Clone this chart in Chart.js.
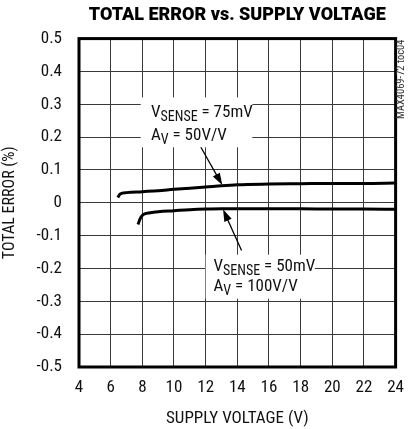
<!DOCTYPE html>
<html lang="en">
<head>
<meta charset="UTF-8">
<title>Total Error vs. Supply Voltage</title>
<script src="https://cdn.jsdelivr.net/npm/chart.js@4.4.1/dist/chart.umd.min.js"></script>
<style>
  html, body { margin: 0; padding: 0; background: #fff; }
  #wrap { width: 415px; height: 429px; }
</style>
</head>
<body>
<div id="wrap"><canvas id="errChart" width="415" height="429"></canvas></div>
<script>
// supply voltage (V) / total error (%)
const vHigh = [6.45, 6.6, 7, 8, 9, 10, 12, 13, 14, 16, 18, 20, 22, 24];
const errHigh = [0.016, 0.027, 0.031, 0.034, 0.037, 0.041, 0.048, 0.052, 0.055, 0.057, 0.058, 0.059, 0.059, 0.060];
const vLow = [7.73, 7.85, 8.05, 8.5, 9, 10, 11, 12, 13, 14, 16, 18, 20, 22, 24];
const errLow = [-0.066, -0.05, -0.036, -0.03, -0.027, -0.024, -0.021, -0.019, -0.018, -0.018, -0.018, -0.018, -0.019, -0.019, -0.020];
const xTicks = [4, 6, 8, 10, 12, 14, 16, 18, 20, 22, 24];
const yTicks = ['-0.5', '-0.4', '-0.3', '-0.2', '-0.1', '0', '0.1', '0.2', '0.3', '0.4', '0.5'];

const FONT = '"Roboto Condensed", "Liberation Sans Narrow", Arial, sans-serif';
const TITLE_FONT = 'Roboto, "Liberation Sans", Arial, sans-serif';

function pts(xs, ys) {
    return xs.map((x, i) => ({ x: x, y: ys[i] }));
}

// labels + arrows, placed in data units
const notes = [
    { box: [7.9, 14.95, 0.321, 0.169], x: 8.55, y1: 0.260, y2: 0.192,
      lines: [['V', 'SENSE', ' = 75mV'], ['A', 'V', ' = 50V/V']],
      arrow: [11.7, 0.169, 13.05, 0.054] },
    { box: [12.0, 18.9, -0.158, -0.292], x: 12.5, y1: -0.207, y2: -0.27,
      lines: [['V', 'SENSE', ' = 50mV'], ['A', 'V', ' = 100V/V']],
      arrow: [14.27, -0.145, 13.1, -0.02] }
];

const extras = {
    id: 'extras',
    beforeDatasetsDraw(chart) {
        const c = chart.ctx, xs = chart.scales.x, ys = chart.scales.y;
        c.save();
        c.fillStyle = '#fff';
        notes.forEach(n => {
            const l = xs.getPixelForValue(n.box[0]), r = xs.getPixelForValue(n.box[1]);
            const t = ys.getPixelForValue(n.box[2]), b = ys.getPixelForValue(n.box[3]);
            c.fillRect(l, t, r - l, b - t);
        });
        c.restore();
    },
    afterDatasetsDraw(chart) {
        const c = chart.ctx, xs = chart.scales.x, ys = chart.scales.y, a = chart.chartArea;
        c.save();
        // frame
        c.strokeStyle = '#000';
        c.lineWidth = 3;
        c.strokeRect(a.left, a.top, a.right - a.left, a.bottom - a.top);

        c.textBaseline = 'alphabetic';
        notes.forEach(n => {
            const x = xs.getPixelForValue(n.x);
            [n.y1, n.y2].forEach((yv, k) => {
                const py = ys.getPixelForValue(yv);
                const parts = n.lines[k];
                let px = x;
                c.fillStyle = '#111';
                c.font = '17px ' + FONT;
                c.fillText(parts[0], px, py);
                px += c.measureText(parts[0]).width;
                c.font = '14px ' + FONT;
                c.fillText(parts[1], px, py + 4);
                px += c.measureText(parts[1]).width;
                c.font = '17px ' + FONT;
                c.fillText(parts[2], px, py);
            });

            // arrow
            const x0 = xs.getPixelForValue(n.arrow[0]), y0 = ys.getPixelForValue(n.arrow[1]);
            const x1 = xs.getPixelForValue(n.arrow[2]), y1 = ys.getPixelForValue(n.arrow[3]);
            const ang = Math.atan2(y1 - y0, x1 - x0);
            const cs = Math.cos(ang), sn = Math.sin(ang);
            c.strokeStyle = '#000';
            c.lineWidth = 1.3;
            c.beginPath();
            c.moveTo(x0, y0);
            c.lineTo(x1 - 8 * cs, y1 - 8 * sn);
            c.stroke();
            c.beginPath();
            c.moveTo(x1, y1);
            c.lineTo(x1 - 12 * cs + 4 * sn, y1 - 12 * sn - 4 * cs);
            c.lineTo(x1 - 12 * cs - 4 * sn, y1 - 12 * sn + 4 * cs);
            c.closePath();
            c.fillStyle = '#000';
            c.fill();
        });

        // figure id on the right edge
        c.translate(a.right + 6, a.top + 1);
        c.rotate(-Math.PI / 2);
        c.font = '10.5px ' + FONT;
        c.textAlign = 'right';
        c.textBaseline = 'middle';
        c.fillStyle = '#333';
        c.fillText('MAX4069-72 toc04', 0, 0);
        c.restore();
    }
};

const ctx = document.getElementById('errChart').getContext('2d');
const errChart = new Chart(ctx, {
    type: 'line',
    data: {
        datasets: [
            {
                label: 'VSENSE = 75mV, AV = 50V/V',
                data: pts(vHigh, errHigh),
                borderColor: '#000',
                borderWidth: 3,
                pointRadius: 0,
                cubicInterpolationMode: 'monotone',
                fill: false
            },
            {
                label: 'VSENSE = 50mV, AV = 100V/V',
                data: pts(vLow, errLow),
                borderColor: '#000',
                borderWidth: 3,
                pointRadius: 0,
                cubicInterpolationMode: 'monotone',
                fill: false
            }
        ]
    },
    options: {
        responsive: false,
        animation: false,
        layout: { padding: { left: 0, right: 9, top: 0, bottom: 0 } },
        plugins: {
            legend: { display: false },
            tooltip: { enabled: false },
            title: {
                display: true,
                fullSize: false,
                text: 'TOTAL ERROR vs. SUPPLY VOLTAGE',
                color: '#000',
                font: { family: TITLE_FONT, size: 18, weight: 900 },
                padding: { top: 5, bottom: 12 }
            }
        },
        scales: {
            x: {
                type: 'linear',
                min: 4,
                max: 24,
                afterBuildTicks(s) { s.ticks = xTicks.map(v => ({ value: v })); },
                afterFit(s) { s.height = 62; },
                ticks: { color: '#111', font: { family: FONT, size: 17 }, padding: 11, maxRotation: 0 },
                grid: { color: '#3a3a3a', lineWidth: 1, drawTicks: false },
                border: { display: false },
                title: { display: true, text: 'SUPPLY VOLTAGE (V)', color: '#111', font: { family: FONT, size: 17 }, padding: { top: 3, bottom: 0 } }
            },
            y: {
                min: -0.5,
                max: 0.5,
                afterBuildTicks(s) { s.ticks = yTicks.map(v => ({ value: parseFloat(v) })); },
                afterFit(s) { s.width = 79; },
                ticks: {
                    color: '#111',
                    font: { family: FONT, size: 17 },
                    padding: 17,
                    callback: (v, i) => yTicks[i]
                },
                grid: { color: '#3a3a3a', lineWidth: 1, drawTicks: false },
                border: { display: false },
                title: { display: true, text: 'TOTAL ERROR (%)', color: '#111', font: { family: FONT, size: 16 }, padding: { top: 0, bottom: 4 } }
            }
        }
    },
    plugins: [extras]
});
</script>
</body>
</html>
